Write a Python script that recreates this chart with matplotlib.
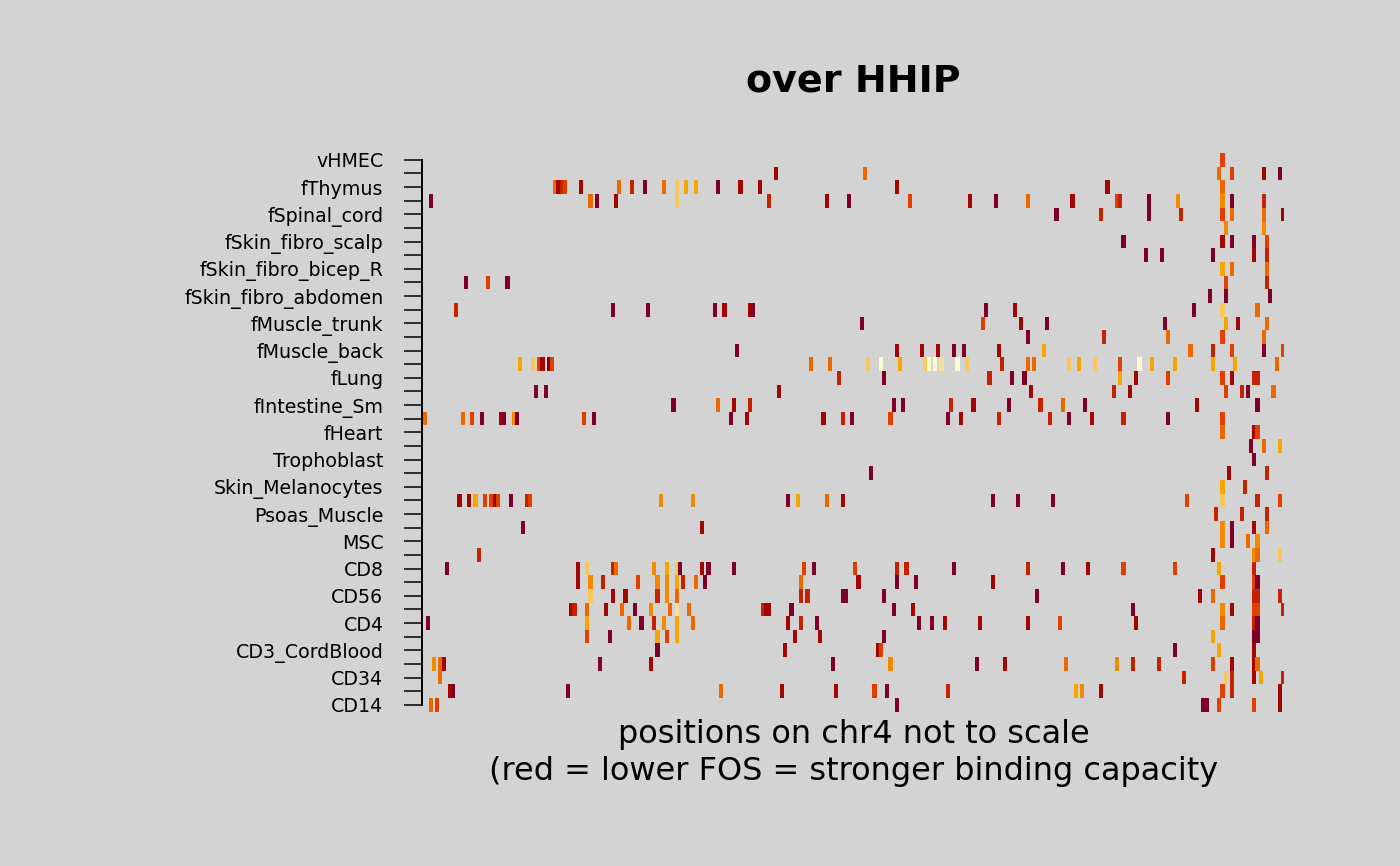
import matplotlib
matplotlib.use("Agg")
import matplotlib.pyplot as plt

# ---------------- data ----------------
# 41 samples (rows, top to bottom); R only printed every other label
row_labels = ["vHMEC", "", "fThymus", "", "fSpinal_cord", "", "fSkin_fibro_scalp", "",
              "fSkin_fibro_bicep_R", "", "fSkin_fibro_abdomen", "", "fMuscle_trunk", "",
              "fMuscle_back", "", "fLung", "", "fIntestine_Sm", "", "fHeart", "",
              "Trophoblast", "", "Skin_Melanocytes", "", "Psoas_Muscle", "", "MSC", "",
              "CD8", "", "CD56", "", "CD4", "", "CD3_CordBlood", "", "CD34", "", "CD14"]

n_sites = 270  # site positions along chr4 (not to scale)

# FOS class per hit: 1 = lowest FOS (dark red) ... 10 = highest (pale yellow)
fos_colors = ["#7F0026", "#A30505", "#C42200", "#E03F00", "#EE6800",
              "#F28A00", "#F7A500", "#F8C65A", "#F9DFA0", "#FFFBD0"]

site_cols = [
    [250],
    [110, 138, 249, 253, 263, 268],
    [41, 42, 43, 44, 49, 61, 65, 69, 75, 79, 82, 85, 92, 99, 105, 148, 214, 250],
    [2, 52, 54, 60, 79, 108, 126, 133, 152, 171, 179, 189, 203, 217, 218, 227, 236, 250, 253, 263],
    [198, 212, 227, 237, 250, 253, 263, 269],
    [251, 263],
    [219, 250, 253, 260, 264],
    [226, 231, 247, 260, 264],
    [250, 253, 264],
    [13, 20, 26, 251, 264],
    [246, 251, 265],
    [10, 59, 70, 91, 94, 102, 103, 176, 185, 241, 250, 261],
    [137, 175, 187, 195, 232, 251, 255, 264],
    [189, 213, 233, 250, 263],
    [98, 148, 156, 161, 166, 169, 180, 194, 240, 247, 253, 263, 269],
    [30, 34, 36, 37, 39, 40, 121, 127, 139, 143, 149, 157, 158, 160, 162, 167, 170, 181, 189,
     191, 202, 205, 210, 218, 224, 228, 235, 247, 254, 267],
    [130, 144, 177, 184, 188, 218, 223, 233, 250, 253, 260, 261],
    [35, 38, 111, 190, 216, 221, 251, 256, 258, 266],
    [78, 92, 97, 102, 147, 150, 165, 172, 183, 193, 200, 207, 242, 261],
    [0, 12, 15, 18, 24, 25, 28, 29, 50, 53, 96, 101, 125, 131, 134, 146, 164, 168, 180, 196,
     202, 209, 219, 233, 250],
    [250, 260, 261],
    [259, 263, 268],
    [260],
    [140, 252, 264],
    [250, 257],
    [11, 14, 16, 19, 21, 22, 23, 27, 32, 33, 74, 84, 114, 117, 126, 131, 178, 186, 197, 239,
     250, 261, 268],
    [248, 256, 264],
    [31, 87, 250, 253, 260, 264],
    [250, 253, 258, 261],
    [17, 247, 260, 261, 268],
    [7, 48, 51, 59, 60, 72, 76, 79, 80, 87, 89, 97, 119, 122, 135, 148, 151, 166, 189, 200,
     208, 219, 235, 249, 260],
    [48, 52, 56, 67, 73, 76, 79, 81, 85, 88, 118, 136, 148, 154, 178, 250, 260, 261],
    [52, 59, 63, 73, 76, 79, 118, 120, 131, 132, 144, 192, 243, 247, 260, 261, 268],
    [46, 47, 51, 57, 62, 66, 71, 77, 79, 83, 106, 107, 108, 115, 147, 153, 222, 250, 253, 260,
     261, 269],
    [1, 51, 64, 68, 72, 75, 79, 84, 114, 118, 123, 155, 159, 163, 174, 189, 199, 223, 250,
     260, 261],
    [51, 58, 73, 76, 79, 116, 124, 144, 247, 260, 261],
    [73, 113, 142, 143, 235, 249, 260],
    [3, 5, 6, 55, 71, 128, 146, 173, 182, 201, 217, 222, 230, 247, 253, 260, 261],
    [5, 238, 251, 253, 260, 262, 269],
    [8, 9, 45, 93, 112, 129, 141, 145, 164, 204, 206, 212, 250, 253, 268],
    [2, 4, 148, 244, 245, 249, 260, 268],
]

site_fos = [
    [4],
    [2, 5, 5, 4, 2, 1],
    [5, 2, 3, 4, 2, 5, 3, 1, 5, 8, 7, 7, 1, 2, 2, 2, 2, 5],
    [1, 5, 1, 2, 8, 3, 2, 1, 4, 2, 1, 5, 2, 4, 3, 1, 6, 6, 1, 3],
    [1, 3, 1, 3, 4, 5, 5, 2],
    [6, 6],
    [1, 2, 1, 1, 4],
    [1, 1, 1, 2, 3],
    [7, 5, 5],
    [1, 4, 1, 4, 3],
    [1, 1, 1],
    [3, 1, 1, 1, 2, 2, 1, 1, 2, 1, 8, 5],
    [1, 4, 2, 1, 1, 7, 2, 5],
    [1, 3, 5, 4, 5],
    [1, 2, 2, 2, 1, 1, 2, 7, 5, 3, 4, 1, 4],
    [7, 8, 4, 2, 1, 4, 5, 5, 8, 10, 7, 8, 10, 10, 9, 10, 8, 3, 5,
     5, 8, 7, 8, 4, 10, 7, 7, 7, 7, 5],
    [3, 1, 3, 1, 1, 7, 2, 4, 4, 2, 3, 3],
    [1, 1, 2, 2, 3, 2, 4, 3, 1, 5],
    [1, 5, 2, 3, 1, 1, 3, 2, 1, 3, 5, 1, 2, 1],
    [5, 5, 4, 1, 2, 1, 6, 1, 4, 1, 1, 2, 2, 3, 1, 4, 1, 2, 3, 3,
     1, 2, 3, 1, 4],
    [5, 2, 4],
    [1, 5, 7],
    [1],
    [1, 2, 3],
    [7, 3],
    [2, 2, 7, 4, 4, 2, 4, 1, 3, 4, 6, 6, 1, 7, 5, 2, 1, 1, 1, 4,
     8, 3, 4],
    [3, 3, 3],
    [1, 2, 6, 1, 2, 5],
    [6, 1, 5, 6],
    [3, 2, 6, 5, 8],
    [1, 2, 8, 3, 5, 6, 7, 8, 1, 2, 1, 1, 4, 1, 4, 3, 3, 1, 3, 1,
     2, 4, 4, 7, 3],
    [2, 6, 3, 4, 6, 6, 7, 3, 5, 1, 5, 2, 1, 1, 2, 4, 4, 1],
    [8, 2, 2, 3, 6, 5, 3, 3, 1, 1, 1, 1, 2, 5, 3, 3, 3],
    [2, 3, 5, 2, 5, 1, 6, 5, 9, 5, 3, 2, 2, 1, 1, 2, 1, 6, 2, 4,
     4, 3],
    [1, 7, 5, 1, 3, 6, 7, 5, 2, 3, 1, 1, 1, 2, 2, 2, 4, 2, 5,
     3, 1],
    [4, 1, 7, 4, 7, 2, 2, 1, 7, 1, 1],
    [1, 2, 2, 4, 1, 7, 2],
    [6, 5, 2, 1, 2, 1, 6, 1, 2, 5, 6, 3, 3, 4, 2, 2, 5],
    [5, 3, 8, 3, 2, 7, 3],
    [2, 1, 1, 5, 2, 2, 4, 1, 3, 7, 6, 2, 4, 3, 2],
    [5, 4, 1, 1, 1, 4, 4, 2],
]

title_text = "over HHIP"
xlabel_lines = ["positions on chr4 not to scale",
                "(red = lower FOS = stronger binding capacity"]

# ---------------- figure ----------------
bg = "#D3D3D3"
fig = plt.figure(figsize=(14, 8.66), dpi=100, facecolor=bg)
ax = fig.add_axes([0.3017, 0.1783, 0.6156, 0.6450])
ax.set_facecolor(bg)

for r in range(len(row_labels)):
    cols = site_cols[r]
    fos = site_fos[r]
    order = sorted(range(len(cols)), key=lambda i: cols[i])
    ax.broken_barh([(cols[i], 1.3) for i in order], (r - 0.5, 1.0),
                   facecolors=[fos_colors[fos[i] - 1] for i in order],
                   linewidth=0, antialiased=False)

ax.set_xlim(0, n_sites)
ax.set_ylim(len(row_labels) - 0.5, -0.5)

for s in ["top", "right", "bottom"]:
    ax.spines[s].set_visible(False)
ax.spines["left"].set_bounds(0, len(row_labels) - 1)
ax.spines["left"].set_linewidth(1.4)
ax.set_xticks([])
ax.set_yticks(range(len(row_labels)))
ax.set_yticklabels(row_labels, fontsize=13.7)
ax.tick_params(axis="y", length=13, width=1.1, pad=15, color="black")

fig.text(853.5 / 1400, 1 - 92 / 866, title_text, ha="center", va="baseline",
         fontsize=27.4, fontweight="bold")
fig.text(853.5 / 1400, 1 - 743 / 866, xlabel_lines[0], ha="center", va="baseline",
         fontsize=23)
fig.text(853.5 / 1400, 1 - 780 / 866, xlabel_lines[1], ha="center", va="baseline",
         fontsize=23)

fig.savefig("out.png", dpi=100, facecolor=bg)
